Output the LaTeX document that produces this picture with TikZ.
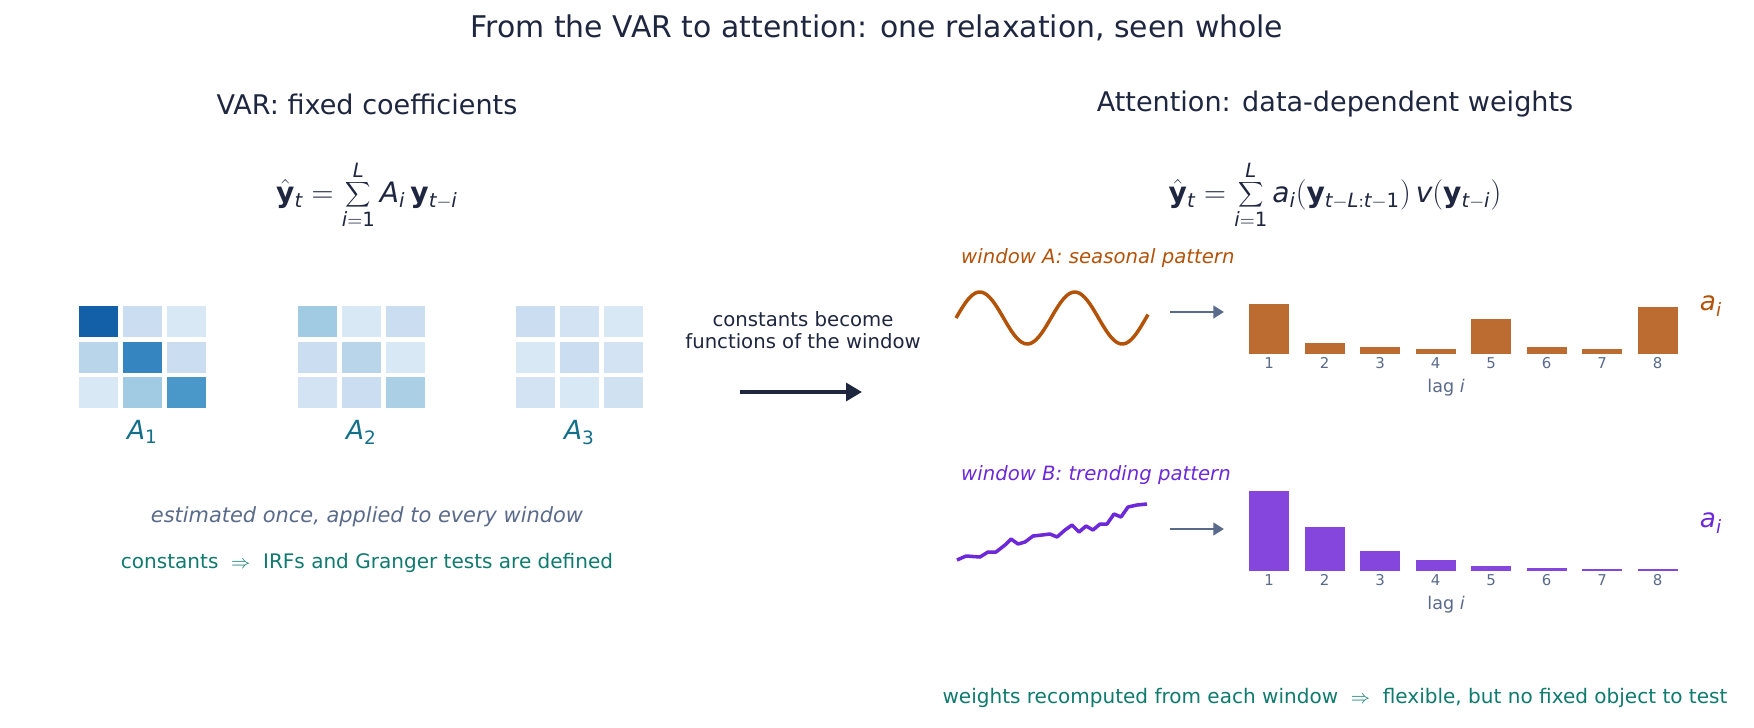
\documentclass[tikz,border=0pt]{standalone}
\usepackage{fontspec}
\setmainfont{DejaVu Sans}
\usetikzlibrary{positioning,arrows.meta}
\definecolor{ink}{HTML}{1E2640}
\definecolor{slate}{HTML}{5A6A8A}
\definecolor{teal}{HTML}{0F7A6E}
\definecolor{matlab}{HTML}{14708A}
\definecolor{seas}{HTML}{B35209}
\definecolor{seasbar}{HTML}{BC6C30}
\definecolor{trend}{HTML}{6D28D9}
\definecolor{trendbar}{HTML}{8446DC}
\newcommand{\mi}[1]{\mathit{#1}}
\tikzset{x=0.02cm, y=-0.02cm,
  title/.style={text=ink, font=\fontsize{17}{20}\selectfont},
  head/.style={text=ink, font=\fontsize{15.4}{18}\selectfont},
  formula/.style={text=ink, font=\fontsize{16}{19}\selectfont},
  note/.style={font=\fontsize{11.4}{13}\selectfont, align=center},
  tick/.style={text=slate, font=\fontsize{8.5}{10}\selectfont},
  cell/.style={draw=none, minimum width=0.78cm, minimum height=0.62cm, inner sep=0pt},
  mlabel/.style={text=matlab, font=\fontsize{15}{17}\selectfont},
  bigarrow/.style={-{Triangle[length=9pt,width=10pt]}, line width=2.2pt, draw=ink},
  smallarrow/.style={-{Triangle[length=6pt,width=7pt]}, line width=1.6pt, draw=slate}}
\begin{document}
\begin{tikzpicture}
  \useasboundingbox (0,0) rectangle (1754,727);

  \node [title] (title) at (877,28) {From the VAR to attention: one relaxation, seen whole};
  \node [head] (hvar) at (367,104) {VAR: fixed coefficients};
  \node [head] (hatt) at (1335,104) {Attention: data-dependent weights};

  \node [formula] (fvar) at (367,195) {$\hat{\mathbf{y}}_{\mi{t}} = \displaystyle\sum_{\mi{i}=\mathrm{1}}^{\mi{L}} \mi{A}_{\mi{i}}\,\mathbf{y}_{\mi{t}-\mi{i}}$};
  \node [formula] (fatt) at (1335,195) {$\hat{\mathbf{y}}_{\mi{t}} = \displaystyle\sum_{\mi{i}=\mathrm{1}}^{\mi{L}} \mi{a}_{\mi{i}}(\mathbf{y}_{\mi{t}-\mi{L}:\mi{t}-\mathrm{1}})\,\mi{v}(\mathbf{y}_{\mi{t}-\mi{i}})$};

  % coefficient matrices
  \foreach \m/\x/\cols in {1/79/{1460A8,CBDEF1,D9E8F5,B9D5EA,3585C0,CBDEF1,D9E8F5,A0CBE2,4A98C9},
                           2/298/{A0CBE2,D9E8F5,CBDEF1,CBDEF1,B9D5EA,D9E8F5,D3E3F3,CBDEF1,ABCFE5},
                           3/516/{CBDEF1,D3E3F3,D9E8F5,D9E8F5,CBDEF1,D3E3F3,D3E3F3,D9E8F5,D0E1F2}} {
    \foreach \c [count=\k from 0] in \cols {
      \pgfmathtruncatemacro\r{int(\k/3)}
      \pgfmathtruncatemacro\s{mod(\k,3)}
      \definecolor{cc}{HTML}{\c}
      \node [cell, fill=cc] (A\m-\r\s) at (\x+19.5+\s*44, 321.5+\r*35.5) {};
    }
    \node [mlabel, below=3pt of A\m-21] (lab\m) {$\mi{A}_{\mathrm{\m}}$};
  }

  \node [note, text=slate, font=\fontsize{11.9}{14}\selectfont\itshape] (once) at (367,517) {estimated once, applied to every window};
  \node [note, text=teal] (irf) at (367,563) {constants \ $\Rightarrow$ \ IRFs and Granger tests are defined};

  % middle
  \node [note, text=ink, font=\fontsize{11.2}{12.5}\selectfont] (become) at (803,330) {constants become\\functions of the window};
  \coordinate (m0) at (740,392);
  \coordinate (m1) at (862,392);
  \draw [bigarrow] (m0) -- (m1);

  % window A
  \node [note, text=seas, anchor=west, font=\fontsize{11.2}{13}\selectfont\itshape] (wa) at (955,258) {window A: seasonal pattern};
  \draw [seas, line width=2pt, line join=round]
    plot [domain=0:192, samples=80, smooth] ({956+\x}, {318-26*sin(\x/95*360)});
  \coordinate (pa0) at (1170,312);
  \coordinate (pa1) at (1224,312);
  \draw [smallarrow] (pa0) -- (pa1);
  \foreach \h [count=\i] in {50,11,7,5,35,7,5,47} {
    \fill [seasbar] (1249+\i*55.5-55.5,354) rectangle ++(40,-\h);
    \node [tick] (ta\i) at (1269+\i*55.5-55.5,363) {\i};
  }
  \node [tick, font=\fontsize{10}{12}\selectfont] (laga) at (1446,388) {lag \textit{i}};
  \node [text=seas, font=\fontsize{15}{17}\selectfont] (aa) at (1711,306) {$\mi{a}_{\mi{i}}$};

  % window B
  \node [note, text=trend, anchor=west, font=\fontsize{11.2}{13}\selectfont\itshape] (wb) at (955,475) {window B: trending pattern};
  \draw [trend, line width=2pt, line join=round]
    plot coordinates {(957,560) (966,556) (980,557) (988,552) (996,552) (1005,545) (1011,539) (1018,544) (1025,542) (1033,536) (1042,535) (1050,534) (1057,537) (1065,530) (1072,525) (1079,532) (1086,526) (1093,530) (1100,524) (1107,524) (1114,514) (1121,517) (1128,507) (1137,505) (1147,504)};
  \coordinate (pb0) at (1170,529);
  \coordinate (pb1) at (1224,529);
  \draw [smallarrow] (pb0) -- (pb1);
  \foreach \h [count=\i] in {80,44,20,11,5,3,2,2} {
    \fill [trendbar] (1249+\i*55.5-55.5,571) rectangle ++(40,-\h);
    \node [tick] (tb\i) at (1269+\i*55.5-55.5,580) {\i};
  }
  \node [tick, font=\fontsize{10}{12}\selectfont] (lagb) at (1446,605) {lag \textit{i}};
  \node [text=trend, font=\fontsize{15}{17}\selectfont] (ab) at (1711,523) {$\mi{a}_{\mi{i}}$};

  \node [note, text=teal] (recomp) at (1335,698) {weights recomputed from each window \ $\Rightarrow$ \ flexible, but no fixed object to test};
\end{tikzpicture}
\end{document}
